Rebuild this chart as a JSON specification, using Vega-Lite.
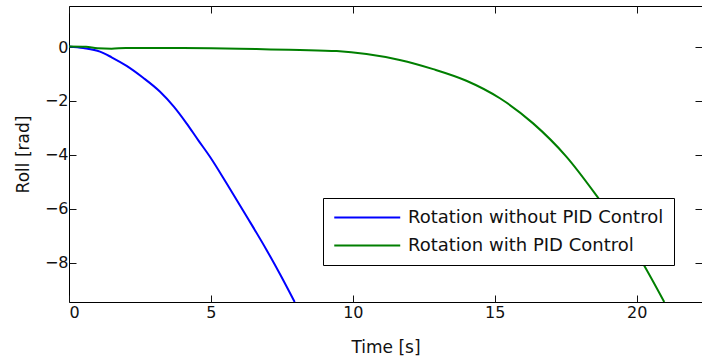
{
  "$schema": "https://vega.github.io/schema/vega-lite/v6.json",
  "width": 633,
  "height": 296,
  "autosize": {"type": "none"},
  "padding": {"left": 69, "top": 6, "right": 0, "bottom": 58},
  "background": "white",
  "config": {
    "font": "DejaVu Sans",
    "view": {"stroke": "black", "strokeWidth": 1},
    "axis": {
      "domain": false,
      "grid": false,
      "tickSize": -7,
      "tickColor": "#111",
      "labelColor": "#111",
      "labelFont": "DejaVu Sans",
      "labelFontSize": 16,
      "titleFont": "DejaVu Sans",
      "titleFontSize": 17,
      "titleFontWeight": "normal",
      "titleColor": "#111"
    }
  },
  "data": {
    "values": [
      {"t": 0, "roll": 0.02, "series": "Rotation without PID Control"},
      {"t": 0.5, "roll": -0.04, "series": "Rotation without PID Control"},
      {"t": 1.09, "roll": -0.17, "series": "Rotation without PID Control"},
      {"t": 1.5, "roll": -0.38, "series": "Rotation without PID Control"},
      {"t": 2.03, "roll": -0.7, "series": "Rotation without PID Control"},
      {"t": 2.6, "roll": -1.13, "series": "Rotation without PID Control"},
      {"t": 3.2, "roll": -1.65, "series": "Rotation without PID Control"},
      {"t": 3.7, "roll": -2.22, "series": "Rotation without PID Control"},
      {"t": 4.14, "roll": -2.83, "series": "Rotation without PID Control"},
      {"t": 4.55, "roll": -3.45, "series": "Rotation without PID Control"},
      {"t": 4.96, "roll": -4.06, "series": "Rotation without PID Control"},
      {"t": 5.55, "roll": -5.05, "series": "Rotation without PID Control"},
      {"t": 6.26, "roll": -6.28, "series": "Rotation without PID Control"},
      {"t": 6.96, "roll": -7.52, "series": "Rotation without PID Control"},
      {"t": 7.45, "roll": -8.45, "series": "Rotation without PID Control"},
      {"t": 7.95, "roll": -9.45, "series": "Rotation without PID Control"},
      {"t": 0, "roll": 0.02, "series": "Rotation with PID Control"},
      {"t": 0.6, "roll": 0.01, "series": "Rotation with PID Control"},
      {"t": 1.0, "roll": -0.05, "series": "Rotation with PID Control"},
      {"t": 1.5, "roll": -0.06, "series": "Rotation with PID Control"},
      {"t": 2.0, "roll": -0.04, "series": "Rotation with PID Control"},
      {"t": 4.0, "roll": -0.04, "series": "Rotation with PID Control"},
      {"t": 6.0, "roll": -0.06, "series": "Rotation with PID Control"},
      {"t": 7.1, "roll": -0.09, "series": "Rotation with PID Control"},
      {"t": 8.13, "roll": -0.11, "series": "Rotation with PID Control"},
      {"t": 9.43, "roll": -0.15, "series": "Rotation with PID Control"},
      {"t": 10.48, "roll": -0.26, "series": "Rotation with PID Control"},
      {"t": 11.65, "roll": -0.48, "series": "Rotation with PID Control"},
      {"t": 12.83, "roll": -0.82, "series": "Rotation with PID Control"},
      {"t": 14.0, "roll": -1.25, "series": "Rotation with PID Control"},
      {"t": 15.18, "roll": -1.9, "series": "Rotation with PID Control"},
      {"t": 16.35, "roll": -2.83, "series": "Rotation with PID Control"},
      {"t": 17.52, "roll": -4.06, "series": "Rotation with PID Control"},
      {"t": 18.7, "roll": -5.67, "series": "Rotation with PID Control"},
      {"t": 19.87, "roll": -7.4, "series": "Rotation with PID Control"},
      {"t": 20.97, "roll": -9.45, "series": "Rotation with PID Control"}
    ]
  },
  "layer": [
    {
      "mark": {"type": "line", "strokeWidth": 2, "clip": true, "interpolate": "monotone"},
      "encoding": {
        "x": {
          "field": "t", "type": "quantitative",
          "scale": {"domain": [0, 22.3], "nice": false, "zero": false},
          "axis": {"orient": "bottom", "title": "Time [s]", "values": [0, 5, 10, 15, 20], "labelPadding": 9, "titlePadding": 19}
        },
        "y": {
          "field": "roll", "type": "quantitative",
          "scale": {"domain": [-9.45, 1.52], "nice": false, "zero": false},
          "axis": {"orient": "left", "title": "Roll [rad]", "values": [0, -2, -4, -6, -8], "labelPadding": 8, "titlePadding": 12}
        },
        "color": {
          "field": "series", "type": "nominal",
          "scale": {"domain": ["Rotation without PID Control", "Rotation with PID Control"], "range": ["#0000ff", "#007f00"]},
          "legend": {
            "title": null,
            "orient": "none",
            "legendX": 254,
            "legendY": 192,
            "fillColor": "white",
            "strokeColor": "black",
            "padding": 10,
            "symbolType": "M-1,0H7",
            "symbolSize": 272,
            "symbolStrokeWidth": 2,
            "labelFont": "DejaVu Sans",
            "labelFontSize": 18,
            "labelColor": "#111",
            "labelLimit": 400,
            "labelOffset": 56,
            "rowPadding": 9
          }
        }
      }
    },
    {
      "mark": {"type": "line", "opacity": 0},
      "encoding": {
        "x": {"field": "t", "type": "quantitative", "axis": {"orient": "top", "labels": false, "title": null, "values": [0, 5, 10, 15, 20]}},
        "y": {"field": "roll", "type": "quantitative", "axis": {"orient": "right", "labels": false, "title": null, "values": [0, -2, -4, -6, -8]}}
      }
    }
  ],
  "resolve": {"axis": {"x": "independent", "y": "independent"}}
}
